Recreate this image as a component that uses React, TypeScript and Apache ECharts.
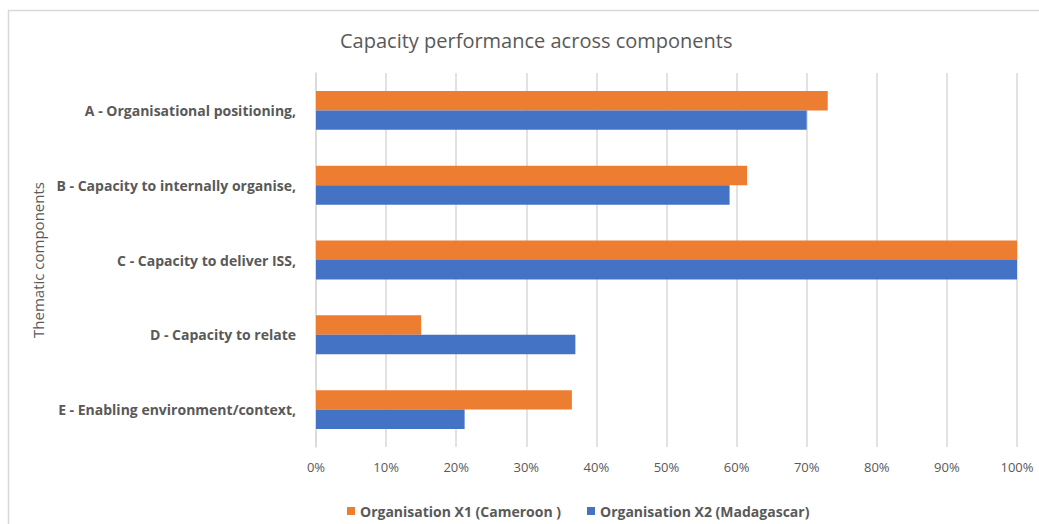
import React, { useEffect, useRef } from "react";
import * as echarts from "echarts";

const categories = [
  "A - Organisational positioning,",
  "B - Capacity to internally organise,",
  "C - Capacity to deliver ISS,",
  "D - Capacity to relate",
  "E - Enabling environment/context,",
];
const seriesNames = ["Organisation X1 (Cameroon )", "Organisation X2 (Madagascar)"];
const cameroon = [73, 61.5, 100, 15, 36.5];
const madagascar = [70, 59, 100, 37, 21.2];
const xTicks = [0, 10, 20, 30, 40, 50, 60, 70, 80, 90, 100];

const FONT = "'Open Sans', 'Liberation Sans', sans-serif";
const GREY = "#595959";

export default function App() {
  const ref = useRef<HTMLDivElement>(null);
  useEffect(() => {
    if (!ref.current) return;
    const chart = echarts.init(ref.current, undefined, { renderer: "svg" });
    chart.setOption({
      animation: false,
      backgroundColor: "#ffffff",
      textStyle: { fontFamily: FONT },
      title: {
        text: "Capacity performance across components",
        left: 335,
        top: 25,
        textStyle: { fontFamily: FONT, fontSize: 20, fontWeight: "normal", color: GREY },
      },
      graphic: [
        {
          type: "rect",
          shape: { x: 8.5, y: 10.5, width: 1100, height: 600 },
          style: { fill: "none", stroke: "#d9d9d9", lineWidth: 1.5 },
          silent: true,
          z: -10,
        },
      ],
      legend: {
        bottom: 1,
        left: 342,
        itemWidth: 8,
        itemHeight: 8,
        itemGap: 26,
        icon: "rect",
        textStyle: { fontFamily: FONT, fontSize: 14, fontWeight: "bold", color: GREY },
        data: seriesNames,
      },
      grid: { left: 316, right: 22, top: 73, bottom: 77, containLabel: false },
      xAxis: {
        type: "value",
        min: xTicks[0],
        max: xTicks[xTicks.length - 1],
        interval: 10,
        axisLine: { show: false },
        axisTick: { show: false },
        splitLine: { show: true, lineStyle: { color: "#d9d9d9", width: 1.5 } },
        axisLabel: {
          formatter: (v: number) => v + "%",
          color: GREY,
          fontSize: 13,
          fontFamily: FONT,
          margin: 13,
        },
      },
      yAxis: {
        type: "category",
        data: categories,
        inverse: true,
        name: "Thematic components",
        nameLocation: "middle",
        nameGap: 265,
        nameRotate: 90,
        nameTextStyle: { fontFamily: FONT, fontSize: 15, color: GREY },
        axisLine: { show: true, lineStyle: { color: "#d9d9d9", width: 1.5 } },
        axisTick: { show: false },
        axisLabel: { color: GREY, fontSize: 14, fontWeight: "bold", fontFamily: FONT, margin: 20 },
      },
      series: [
        {
          name: seriesNames[0],
          type: "bar",
          data: cameroon,
          barGap: "0%",
          barCategoryGap: "48%",
          itemStyle: { color: "#ED7D31" },
        },
        {
          name: seriesNames[1],
          type: "bar",
          data: madagascar,
          barGap: "0%",
          barCategoryGap: "48%",
          itemStyle: { color: "#4472C4" },
        },
      ],
    });
    return () => chart.dispose();
  }, []);
  return (
    <div
      ref={ref}
      style={{ position: "fixed", left: 0, top: 0, width: 1039, height: 524, background: "#fff" }}
    />
  );
}
